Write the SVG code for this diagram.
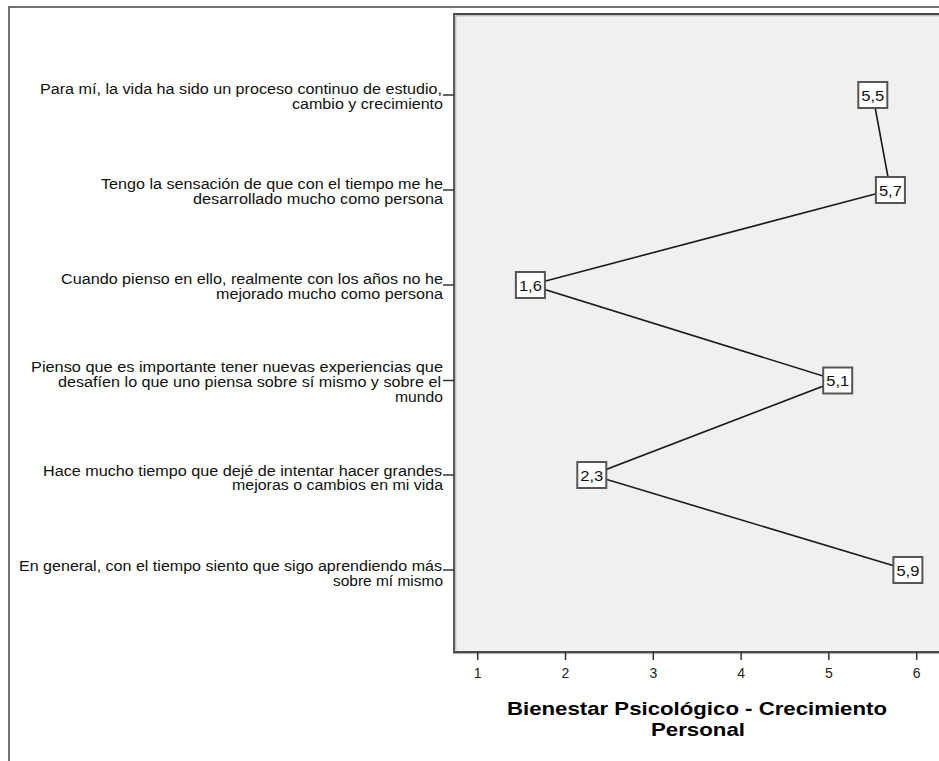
<svg xmlns="http://www.w3.org/2000/svg" width="939" height="761" viewBox="0 0 939 761">
<style>
.lbl{font-family:"Liberation Sans",Arial,sans-serif;font-size:13.8px;fill:#111}
.tick{font-family:"Liberation Sans",Arial,sans-serif;font-size:14px;fill:#222;text-anchor:middle}
.ttl{font-family:"Liberation Sans",Arial,sans-serif;font-size:18.5px;font-weight:bold;fill:#000;text-anchor:middle}
.box{fill:#fff;stroke:#555;stroke-width:2}
.val{font-family:"Liberation Sans",Arial,sans-serif;font-size:15px;fill:#111;text-anchor:middle}
.axl{stroke:#444;stroke-width:1.5;fill:none}
</style>
<rect x="0" y="0" width="939" height="761" fill="#fff"/>
<g id="frame">
<path d="M9,761 V7 H939" class="axl"/>
</g>
<g id="plot">
<rect x="454" y="14" width="485" height="638" fill="#f0f0f0"/>
<path d="M939,14 H454 V652 H939" fill="none" stroke="#4a4a4a" stroke-width="1.8"/>
<path d="M939,15.8 H455.8 V650.2" fill="none" stroke="#b0b0b0" stroke-width="1"/>
<path d="M453,653.6 H939" fill="none" stroke="#a8a8a8" stroke-width="1"/>
</g>
<g id="y-ticks" stroke="#333" stroke-width="1.5">
<line x1="443" y1="95" x2="454" y2="95"/>
<line x1="443" y1="190" x2="454" y2="190"/>
<line x1="443" y1="285" x2="454" y2="285"/>
<line x1="443" y1="380.5" x2="454" y2="380.5"/>
<line x1="443" y1="475" x2="454" y2="475"/>
<line x1="443" y1="570" x2="454" y2="570"/>
</g>
<g id="x-ticks" stroke="#333" stroke-width="1.5">
<line x1="477.7" y1="652" x2="477.7" y2="660"/>
<line x1="565.5" y1="652" x2="565.5" y2="660"/>
<line x1="653.3" y1="652" x2="653.3" y2="660"/>
<line x1="741.1" y1="652" x2="741.1" y2="660"/>
<line x1="828.9" y1="652" x2="828.9" y2="660"/>
<line x1="916.7" y1="652" x2="916.7" y2="660"/>
</g>
<g id="x-tick-labels">
<text class="tick" x="477.7" y="678">1</text>
<text class="tick" x="565.5" y="678">2</text>
<text class="tick" x="653.3" y="678">3</text>
<text class="tick" x="741.1" y="678">4</text>
<text class="tick" x="828.9" y="678">5</text>
<text class="tick" x="916.7" y="678">6</text>
</g>
<g id="y-labels">
<text class="lbl" x="40" y="94" textLength="402" lengthAdjust="spacingAndGlyphs">Para mí, la vida ha sido un proceso continuo de estudio,</text>
<text class="lbl" x="292" y="108.5" textLength="151" lengthAdjust="spacingAndGlyphs">cambio y crecimiento</text>
<text class="lbl" x="101" y="189" textLength="342" lengthAdjust="spacingAndGlyphs">Tengo la sensación de que con el tiempo me he</text>
<text class="lbl" x="193" y="203.5" textLength="250" lengthAdjust="spacingAndGlyphs">desarrollado mucho como persona</text>
<text class="lbl" x="61" y="284" textLength="382" lengthAdjust="spacingAndGlyphs">Cuando pienso en ello, realmente con los años no he</text>
<text class="lbl" x="216" y="298.5" textLength="227" lengthAdjust="spacingAndGlyphs">mejorado mucho como persona</text>
<text class="lbl" x="31" y="371.5" textLength="412" lengthAdjust="spacingAndGlyphs">Pienso que es importante tener nuevas experiencias que</text>
<text class="lbl" x="58" y="386.5" textLength="383" lengthAdjust="spacingAndGlyphs">desafíen lo que uno piensa sobre sí mismo y sobre el</text>
<text class="lbl" x="395" y="401.5" textLength="48" lengthAdjust="spacingAndGlyphs">mundo</text>
<text class="lbl" x="43" y="475.5" textLength="399" lengthAdjust="spacingAndGlyphs">Hace mucho tiempo que dejé de intentar hacer grandes</text>
<text class="lbl" x="232" y="490" textLength="211" lengthAdjust="spacingAndGlyphs">mejoras o cambios en mi vida</text>
<text class="lbl" x="19" y="571" textLength="423" lengthAdjust="spacingAndGlyphs">En general, con el tiempo siento que sigo aprendiendo más</text>
<text class="lbl" x="333" y="585.5" textLength="110" lengthAdjust="spacingAndGlyphs">sobre mí mismo</text>
</g>
<g id="title">
<text class="ttl" x="697" y="715" textLength="380" lengthAdjust="spacingAndGlyphs">Bienestar Psicológico - Crecimiento</text>
<text class="ttl" x="698" y="736" textLength="94" lengthAdjust="spacingAndGlyphs">Personal</text>
</g>
<g id="connectors">
<polyline points="872.8,95 890.4,190 530.4,285 837.7,380.5 591.8,475 907.9,570" fill="none" stroke="#1a1a1a" stroke-width="1.6"/>
</g>
<g id="p1"><rect class="box" x="858.3" y="82" width="29" height="26"/><text class="val" x="872.8" y="100.5" textLength="23" lengthAdjust="spacingAndGlyphs">5,5</text></g>
<g id="p2"><rect class="box" x="875.9" y="177" width="29" height="26"/><text class="val" x="890.4" y="195.5" textLength="23" lengthAdjust="spacingAndGlyphs">5,7</text></g>
<g id="p3"><rect class="box" x="515.9" y="272" width="29" height="26"/><text class="val" x="530.4" y="290.5" textLength="23" lengthAdjust="spacingAndGlyphs">1,6</text></g>
<g id="p4"><rect class="box" x="823.2" y="367.5" width="29" height="26"/><text class="val" x="837.7" y="386" textLength="23" lengthAdjust="spacingAndGlyphs">5,1</text></g>
<g id="p5"><rect class="box" x="577.3" y="462" width="29" height="26"/><text class="val" x="591.8" y="480.5" textLength="23" lengthAdjust="spacingAndGlyphs">2,3</text></g>
<g id="p6"><rect class="box" x="893.4" y="557" width="29" height="26"/><text class="val" x="907.9" y="575.5" textLength="23" lengthAdjust="spacingAndGlyphs">5,9</text></g>
</svg>
